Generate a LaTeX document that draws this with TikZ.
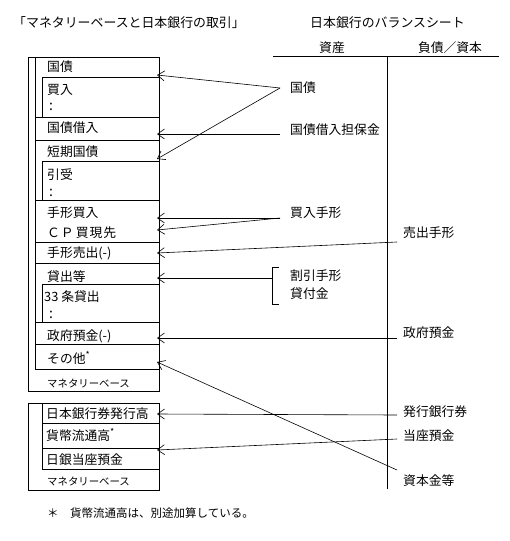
\documentclass[tikz,border=0pt]{standalone}
\usepackage{fontspec}
\setmainfont{Noto Sans CJK JP}
\usetikzlibrary{arrows.meta}
\newcommand{\astr}{\raisebox{0.45em}{\fontsize{9}{9}\selectfont *}}
\begin{document}
\begin{tikzpicture}[x=1pt,y=-1pt,
  lbl/.style={anchor=west,inner sep=0pt,font=\fontsize{12.8}{13}\selectfont},
  sml/.style={anchor=west,inner sep=0pt,font=\fontsize{10.4}{11}\selectfont},
  ttl/.style={anchor=west,inner sep=0pt,font=\fontsize{12.9}{13}\selectfont},
  ctr/.style={inner sep=0pt,font=\fontsize{12.8}{13}\selectfont},
  cln/.style={anchor=west,inner sep=0pt,font=\fontsize{14}{14}\selectfont},
  ln/.style={line width=0.8pt},
  arr/.style={line width=0.6pt,-{Straight Barb[length=7pt,width=10pt,line width=0.6pt]}},
  plain/.style={line width=0.6pt}]
\useasboundingbox (0,0) rectangle (509,541);
% titles
\node[ttl] (t1) at (13,23) {「マネタリーベースと日本銀行の取引」};
\node[ttl] (t2) at (310,23) {日本銀行のバランスシート};
\node[ctr] (as) at (332,48) {資産};
\node[ctr] (li) at (450,48) {負債／資本};
\draw[ln] (273,56) -- (499,56);
\draw[ln] (387,56) -- (387,489);
% box 1
\draw[ln] (28,57) rectangle (159,391);
\draw[ln] (35,57) -- (35,369) -- (159,369);
\foreach \y in {117,140,200,242,263,322,344} \draw[ln] (35,\y) -- (159,\y);
\foreach \a/\b in {77/117,161/200,284/322} {\draw[ln] (159,\a) -- (42,\a) -- (42,\b);}
\node[lbl] (k1) at (47,67) {国債};
\node[lbl] (k1a) at (47,90) {買入};
\node[cln] (k1b) at (49,107) {:};
\node[lbl] (k2) at (47,128) {国債借入};
\node[lbl] (k3) at (47,152) {短期国債};
\node[lbl] (k3a) at (47,175) {引受};
\node[cln] (k3b) at (49,193) {:};
\node[lbl] (k4) at (47,213) {手形買入};
\node[lbl] (k5) at (47,233) {Ｃ\kern1ptＰ\kern2pt買\kern1pt現\kern1pt先};
\node[lbl] (k6) at (47,253) {手形売出(-)};
\node[lbl] (k7) at (47,277) {貸出等};
\node[lbl] (k7a) at (44,297) {33 条貸出};
\node[cln] (k7b) at (49,315) {:};
\node[lbl] (k8) at (47,336) {政府預金(-)};
\node[lbl] (k9) at (47,358) {その他\astr};
\node[sml] (mb1) at (47,383) {マネタリーベース};
% box 2
\draw[ln] (28,403) rectangle (159,490);
\draw[ln] (42,403) -- (42,469) -- (159,469);
\foreach \y in {423,448} \draw[ln] (42,\y) -- (159,\y);
\node[lbl] (m1) at (46,414) {日本銀行券発行高};
\node[lbl] (m2) at (46,435) {貨幣流通高\astr};
\node[lbl] (m3) at (46,460) {日銀当座預金};
\node[sml] (mb2) at (47,481) {マネタリーベース};
\node[ttl,font=\fontsize{11.5}{12}\selectfont] (fn) at (47,513) {＊　貨幣流通高は、別途加算している。};
% right labels
\node[lbl] (r1) at (290,88) {国債};
\node[lbl] (r2) at (290,130) {国債借入担保金};
\node[lbl] (r3) at (290,213) {買入手形};
\node[lbl] (r4) at (290,276) {割引手形};
\node[lbl] (r5) at (290,294) {貸付金};
\node[lbl] (s1) at (403,233) {売出手形};
\node[lbl] (s2) at (403,333) {政府預金};
\node[lbl] (s3) at (403,412) {発行銀行券};
\node[lbl] (s4) at (403,436) {当座預金};
\node[lbl] (s5) at (403,481) {資本金等};
% coordinates
\coordinate (c1) at (280,88);
\coordinate (c2) at (280,134);
\coordinate (c3) at (280,218);
\coordinate (c4a) at (272,267);
\coordinate (c4b) at (272,304);
\coordinate (c4) at (272,278);
\coordinate (e1) at (397,242);
\coordinate (e2) at (397,338);
\coordinate (e3) at (397,415);
\coordinate (e4) at (397,439);
\coordinate (e5) at (397,470);
\coordinate (a1) at (157,75);
\coordinate (a2) at (157,134);
\coordinate (a3) at (157,159);
\coordinate (a4) at (157,218);
\coordinate (a5) at (157,230);
\coordinate (a6) at (157,253);
\coordinate (a7) at (157,278);
\coordinate (a8) at (157,338);
\coordinate (a9) at (157,362);
\coordinate (a10) at (157,414);
\coordinate (a11) at (157,450);
% connectors
\draw[arr] (c1) -- (a1);
\draw[arr] (c1) -- (a3);
\draw[arr] (c2) -- (a2);
\draw[arr] (c3) -- (a4);
\draw[arr] (c3) -- (a5);
\draw[plain] (279,267) -- (c4a) -- (c4b) -- (279,304);
\draw[arr] (c4) -- (a7);
\draw[arr] (e1) -- (a6);
\draw[arr] (e2) -- (a8);
\draw[arr] (e3) -- (a10);
\draw[arr] (e4) -- (a11);
\draw[arr] (e5) -- (a9);
\end{tikzpicture}
\end{document}
